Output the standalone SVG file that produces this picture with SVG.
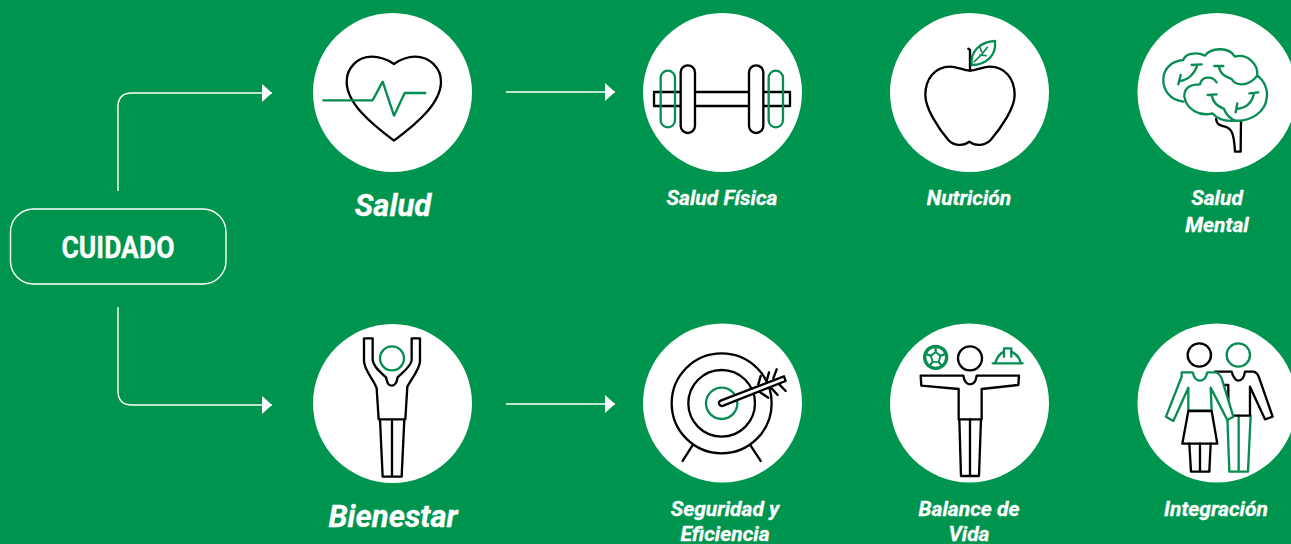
<svg xmlns="http://www.w3.org/2000/svg" width="1291" height="544" viewBox="0 0 1291 544">
<defs>
<style>
.c{fill:#fff}
.k{fill:none;stroke:#000;stroke-width:7;stroke-linejoin:round;stroke-linecap:round}
.kw{fill:#fff;stroke:#000;stroke-width:7;stroke-linejoin:round;stroke-linecap:round}
.g{fill:none;stroke:#078c52;stroke-width:7;stroke-linejoin:round;stroke-linecap:round}
.gw{fill:#fff;stroke:#078c52;stroke-width:7;stroke-linejoin:round;stroke-linecap:round}
.gf{fill:#078c52}
.l{fill:none;stroke:#fff;stroke-width:1.4}
.t{font-family:Roboto,"Liberation Sans",sans-serif;font-weight:700;font-style:italic;fill:#fff;text-anchor:middle;stroke:#fff;stroke-width:.3}
.s{font-size:21px}
.b{font-size:31px}
</style>
<marker id="a" markerUnits="userSpaceOnUse" markerWidth="11" markerHeight="19" refX="10.500" refY="9.500" orient="auto"><path d="M0 0L10.500 9.500L0 19Z" fill="#fff"/></marker>
</defs>
<rect width="1291" height="544" fill="#00954f"/>
<g id="connectors">
<path class="l" d="M118 191V107Q118 93 132 93H272" marker-end="url(#a)"/>
<path class="l" d="M118 307V391Q118 405 132 405H272" marker-end="url(#a)"/>
<path class="l" d="M506 92H615" marker-end="url(#a)"/>
<path class="l" d="M506 404H615" marker-end="url(#a)"/>
</g>
<g id="cuidado">
<rect x="10.500" y="209" width="215.500" height="75" rx="23" class="l"/>
<text x="118" y="258" font-family="Roboto,'Liberation Sans',sans-serif" font-weight="700" font-size="32" fill="#fff" stroke="#fff" stroke-width=".3" text-anchor="middle" textLength="113" lengthAdjust="spacingAndGlyphs">CUIDADO</text>
</g>
<g id="salud">
<circle class="c" cx="392.500" cy="92.500" r="79.500"/>
<g transform="translate(300 0) scale(.3333)">
<path class="k" d="M282 192C258 176 235 170 215 170C172 170 140 205 140 245C140 310 215 372 282 422C349 372 423 310 423 245C423 205 390 170 345 170C325 170 305 176 282 192Z"/>
<path class="g" d="M70 301H218L248 245L282 347L314 279H376"/>
</g>
<text class="t b" x="393" y="216">Salud</text>
</g>
<g id="salud-fisica">
<circle class="c" cx="722.500" cy="92.500" r="79.500"/>
<g transform="translate(630 5) scale(.3333)">
<rect class="k" x="72" y="261" width="408" height="42"/>
<rect class="g" x="92" y="197" width="43" height="170" rx="21.500"/>
<rect class="g" x="416" y="197" width="43" height="170" rx="21.500"/>
<rect class="kw" x="152" y="181" width="43" height="203" rx="21.500"/>
<rect class="kw" x="357" y="181" width="43" height="203" rx="21.500"/>
</g>
<text class="t s" x="722" y="205">Salud Física</text>
</g>
<g id="nutricion">
<circle class="c" cx="969.500" cy="92.500" r="79.500"/>
<g transform="translate(880 5) scale(.3333)">
<path class="k" d="M270 197C250 197 232 185 210 185C165 185 136 222 136 270C136 310 175 370 205 405C220 422 250 425 268 410C286 425 316 422 332 405C362 370 404 310 404 270C404 222 375 185 330 185C308 185 290 197 270 197Z"/>
<path class="k" d="M265 131L270 134V197"/>
<path class="gw" d="M275 180C270 140 300 110 345 108C350 150 320 180 275 180Z"/>
<path class="g" style="stroke-width:5" d="M283 170C295 160 310 145 322 127M300 150L318 152M305 140L300 128"/>
</g>
<text class="t s" x="969" y="205">Nutrición</text>
</g>
<g id="salud-mental">
<circle class="c" cx="1217" cy="92.500" r="79.500"/>
<g transform="translate(1120 5) scale(.3333)">
<path class="k" d="M288 342C290 358 300 362 315 365C335 370 342 385 345 440H362L363 348"/>
<path class="gw" d="M190 290C150 285 128 255 130 220C132 190 155 168 190 165C195 148 225 138 255 152C270 130 325 122 345 155C380 145 415 175 412 212C432 225 445 255 440 280C435 320 395 350 345 347C315 350 290 340 277 325C240 335 200 315 193 275C192 245 215 238 240 238C245 215 275 210 290 232"/>
<path class="g" d="M283 183L310 183M297 185C300 210 320 215 335 222C345 240 380 250 412 212M215 180L245 178M232 180C225 205 205 225 180 228M182 210L175 238M263 270L290 268M275 270C280 300 300 305 312 312C318 328 330 340 345 347M388 265L415 262M402 265C395 300 375 310 350 312M352 295L347 322"/>
</g>
<text class="t s" x="1217" y="205">Salud</text>
<text class="t s" x="1217" y="232">Mental</text>
</g>
<g id="bienestar">
<circle class="c" cx="392.500" cy="403.500" r="79.500"/>
<g transform="translate(300 320) scale(.3333)">
<path class="k" d="M192 55H218V120C220 140 240 155 258 172C262 190 265 197 275 197C285 197 290 190 293 172C310 155 333 140 335 120V55H360V125C358 150 335 175 322 200L316 298H236L230 205C222 180 195 155 192 125Z"/>
<path class="k" d="M240 298L248 470H305L313 298M276 298V470"/>
<circle class="g" cx="276" cy="115" r="36"/>
</g>
<text class="t b" x="393" y="527">Bienestar</text>
</g>
<g id="seguridad">
<circle class="c" cx="722.500" cy="403" r="79.500"/>
<g transform="translate(630 315) scale(.3333)">
<circle class="k" cx="275" cy="265" r="150"/>
<circle class="k" cx="275" cy="265" r="100"/>
<circle class="g" cx="275" cy="265" r="47"/>
<path class="k" d="M187 392L158 438M362 392L392 438"/>
<path class="k" d="M385 208L392 183M410 198L417 172M430 190L440 163M380 225L415 248M420 215L443 240M445 205L467 228"/>
<path class="kw" d="M272 257L462 184L467 198L280 272C268 276 262 262 272 257Z"/>
</g>
<text class="t s" x="725" y="516">Seguridad y</text>
<text class="t s" x="725" y="541">Eficiencia</text>
</g>
<g id="balance">
<circle class="c" cx="969.500" cy="403" r="79.500"/>
<g transform="translate(880 315) scale(.3333)">
<circle class="k" cx="270" cy="130" r="36"/>
<path class="k" d="M122 182H250C252 200 262 208 270 208C280 208 288 200 290 182H417L415 210L305 222V313H236V222L124 212Z"/>
<path class="k" d="M238 313L243 483H297L303 313M270 313V483"/>
<circle class="gf" cx="167" cy="127" r="38"/>
<circle class="c" cx="167" cy="127" r="28"/>
<path class="gf" d="M167 108L185 121L178 143H156L149 121Z"/>
<path class="c" d="M167 115L178 124L174 138H160L156 124Z"/>
<path class="g" d="M167 108V97M185 121L195 117M178 143L186 154M156 143L148 154M149 121L139 117"/>
<path class="g" d="M338 145H428M346 143C352 125 362 114 372 110V100H394V110C408 116 418 128 422 143"/>
<path class="g" d="M372 110V125M394 110V125"/>
</g>
<text class="t s" x="969" y="516">Balance de</text>
<text class="t s" x="969" y="541">Vida</text>
</g>
<g id="integracion">
<circle class="c" cx="1217" cy="403" r="79.500"/>
<g transform="translate(1120 315) scale(.3333)">
<circle class="k" cx="238" cy="120" r="35"/>
<circle class="g" cx="355" cy="120" r="35"/>
<path class="g" d="M322 305L328 470H384L392 302M356 302V470"/>
<path class="k" d="M285 170H335C340 190 350 197 355 197C365 197 372 190 375 170H400C410 172 415 180 418 190L458 305L435 313L390 215V302H340M300 210H325V300"/>
<path class="gw" d="M185 172H218C222 190 230 197 240 197C250 197 258 190 262 172H285C295 172 300 180 305 190L340 305L322 315L272 218L275 287H205V218L160 318L138 305L185 185Z"/>
<path class="kw" d="M205 288H275L292 386H187Z"/>
<path class="k" d="M208 386L213 470H268L272 386M240 386V470"/>
</g>
<text class="t s" x="1216" y="516">Integración</text>
</g>
</svg>
